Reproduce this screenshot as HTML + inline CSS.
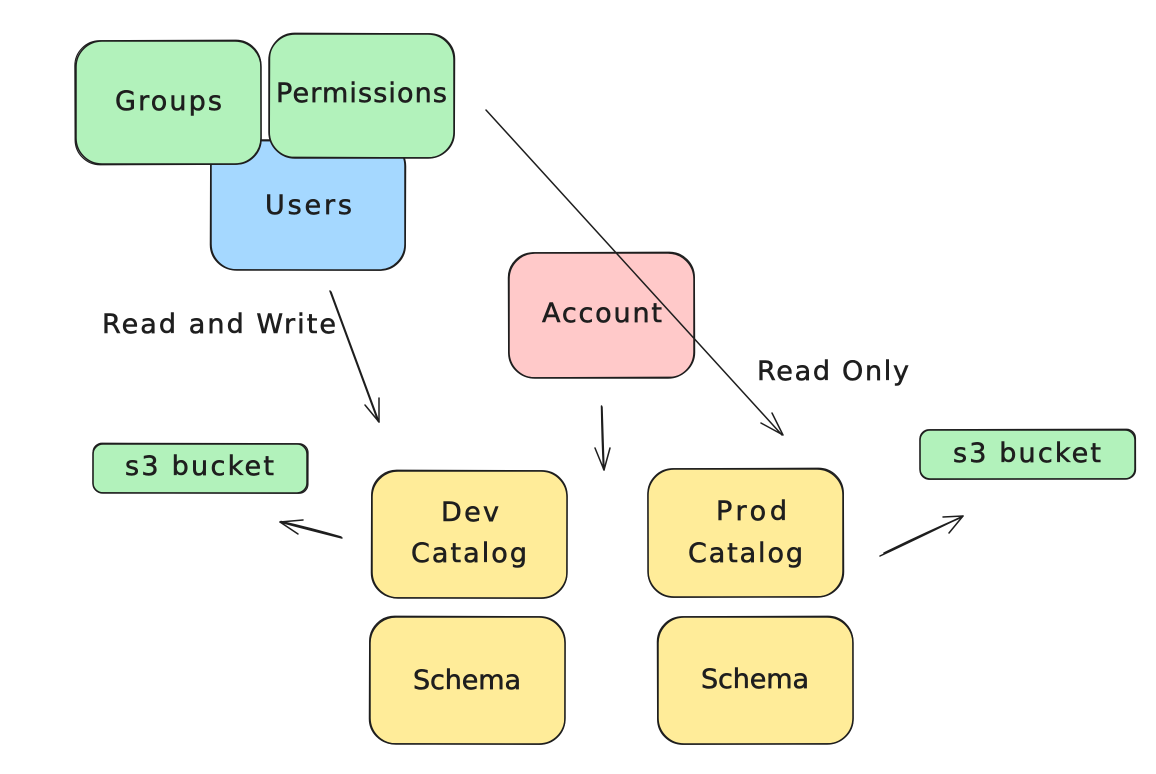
<!DOCTYPE html>
<html>
<head>
<meta charset="utf-8">
<style>
html,body{margin:0;padding:0;background:#fff;width:1156px;height:774px;overflow:hidden}
svg{display:block}
text{font-family:"DejaVu Sans","Liberation Sans",sans-serif;font-size:27px;fill:#1e1e1e;stroke:#1e1e1e;stroke-width:.55}
.b{stroke:#1e1e1e;stroke-width:1.5;stroke-linejoin:round}
.o{fill:none;stroke:#1e1e1e;stroke-width:1.2;stroke-linejoin:round}
.l{fill:none;stroke:#1e1e1e;stroke-width:1.5;stroke-linecap:round;stroke-linejoin:round}
</style>
</head>
<body>
<svg width="1156" height="774" viewBox="0 0 1156 774" xmlns="http://www.w3.org/2000/svg">
<rect width="1156" height="774" fill="#fff"/>
<!-- Users -->
<rect class="b" x="211" y="140" width="194" height="130" rx="26" fill="#a5d8ff"/>
<rect class="o" x="210.5" y="141" width="195" height="129" rx="25" transform="rotate(.2 308 205)"/>
<!-- Groups -->
<rect class="b" x="76" y="41" width="185" height="123" rx="26" fill="#b2f2bb"/>
<rect class="o" x="75" y="40.5" width="186" height="124" rx="25" transform="rotate(-.2 168 102)"/>
<!-- Permissions -->
<rect class="b" x="269" y="34" width="185" height="124" rx="26" fill="#b2f2bb"/>
<rect class="o" x="269.5" y="33.5" width="185" height="124" rx="25" transform="rotate(.2 361 96)"/>
<!-- Account -->
<rect class="b" x="509" y="253" width="185" height="125" rx="26" fill="#ffc9c9"/>
<rect class="o" x="508.5" y="252.5" width="186" height="125" rx="25" transform="rotate(-.2 601 315)"/>
<!-- s3 buckets -->
<rect class="b" x="93" y="444" width="214" height="49" rx="10" fill="#b2f2bb"/>
<rect class="o" x="93" y="443.5" width="215" height="49.5" rx="9" transform="rotate(.15 200 468)"/>
<rect class="b" x="920" y="430" width="215" height="49" rx="10" fill="#b2f2bb"/>
<rect class="o" x="920" y="429.5" width="215.5" height="49.5" rx="9" transform="rotate(-.15 1027 454)"/>
<!-- Catalogs -->
<rect class="b" x="372" y="471" width="195" height="127" rx="26" fill="#ffec99"/>
<rect class="o" x="371.5" y="470.5" width="195.5" height="127.5" rx="25" transform="rotate(.2 469 534)"/>
<rect class="b" x="648" y="469" width="195" height="128" rx="26" fill="#ffec99"/>
<rect class="o" x="648" y="468.5" width="195.5" height="128.5" rx="25" transform="rotate(-.2 745 533)"/>
<rect class="b" x="370" y="617" width="195" height="127" rx="26" fill="#ffec99"/>
<rect class="o" x="369.5" y="616.5" width="195.5" height="127.5" rx="25" transform="rotate(.2 467 680)"/>
<rect class="b" x="658" y="617" width="195" height="127" rx="26" fill="#ffec99"/>
<rect class="o" x="657.5" y="616.5" width="195.5" height="127.5" rx="25" transform="rotate(-.2 755 680)"/>
<!-- Connectors -->
<path class="l" d="M330 291 Q352 350 378 421"/>
<path class="l" d="M331 292 Q353 352 379 422"/>
<path class="l" d="M365 405 L379 422 L379 398"/>
<path class="l" d="M601.5 406 Q602 440 603.5 469"/>
<path class="l" d="M602 407 Q603 440 604 470"/>
<path class="l" d="M595 448 L604 470 L610 448"/>
<path class="l" d="M486 110 L782 435"/>
<path class="l" d="M761 423 L783 435 L772 413"/>
<path class="l" d="M342 538 Q310 530 280 522"/>
<path class="l" d="M341 537 Q310 528 281 521.500"/>
<path class="l" d="M303 520 L280 522 L298 534"/>
<path class="l" d="M880 556 Q925 535 963 516"/>
<path class="l" d="M884 553 Q925 533 962 517"/>
<path class="l" d="M943 517 L963 516 L949 533"/>
<!-- Labels -->
<text x="115" y="110" textLength="107">Groups</text>
<text x="276" y="102" textLength="171">Permissions</text>
<text x="265" y="214" textLength="87">Users</text>
<text x="542" y="322" textLength="120">Account</text>
<text x="102" y="333" textLength="234">Read and Write</text>
<text x="757" y="380" textLength="152">Read Only</text>
<text x="125" y="475" textLength="149">s3 bucket</text>
<text x="953" y="462" textLength="148">s3 bucket</text>
<text x="441" y="521" textLength="58">Dev</text>
<text x="411" y="562" textLength="116">Catalog</text>
<text x="716" y="520" textLength="71">Prod</text>
<text x="688" y="562" textLength="115">Catalog</text>
<text x="413" y="689" textLength="108">Schema</text>
<text x="701" y="688" textLength="108">Schema</text>
</svg>
</body>
</html>
